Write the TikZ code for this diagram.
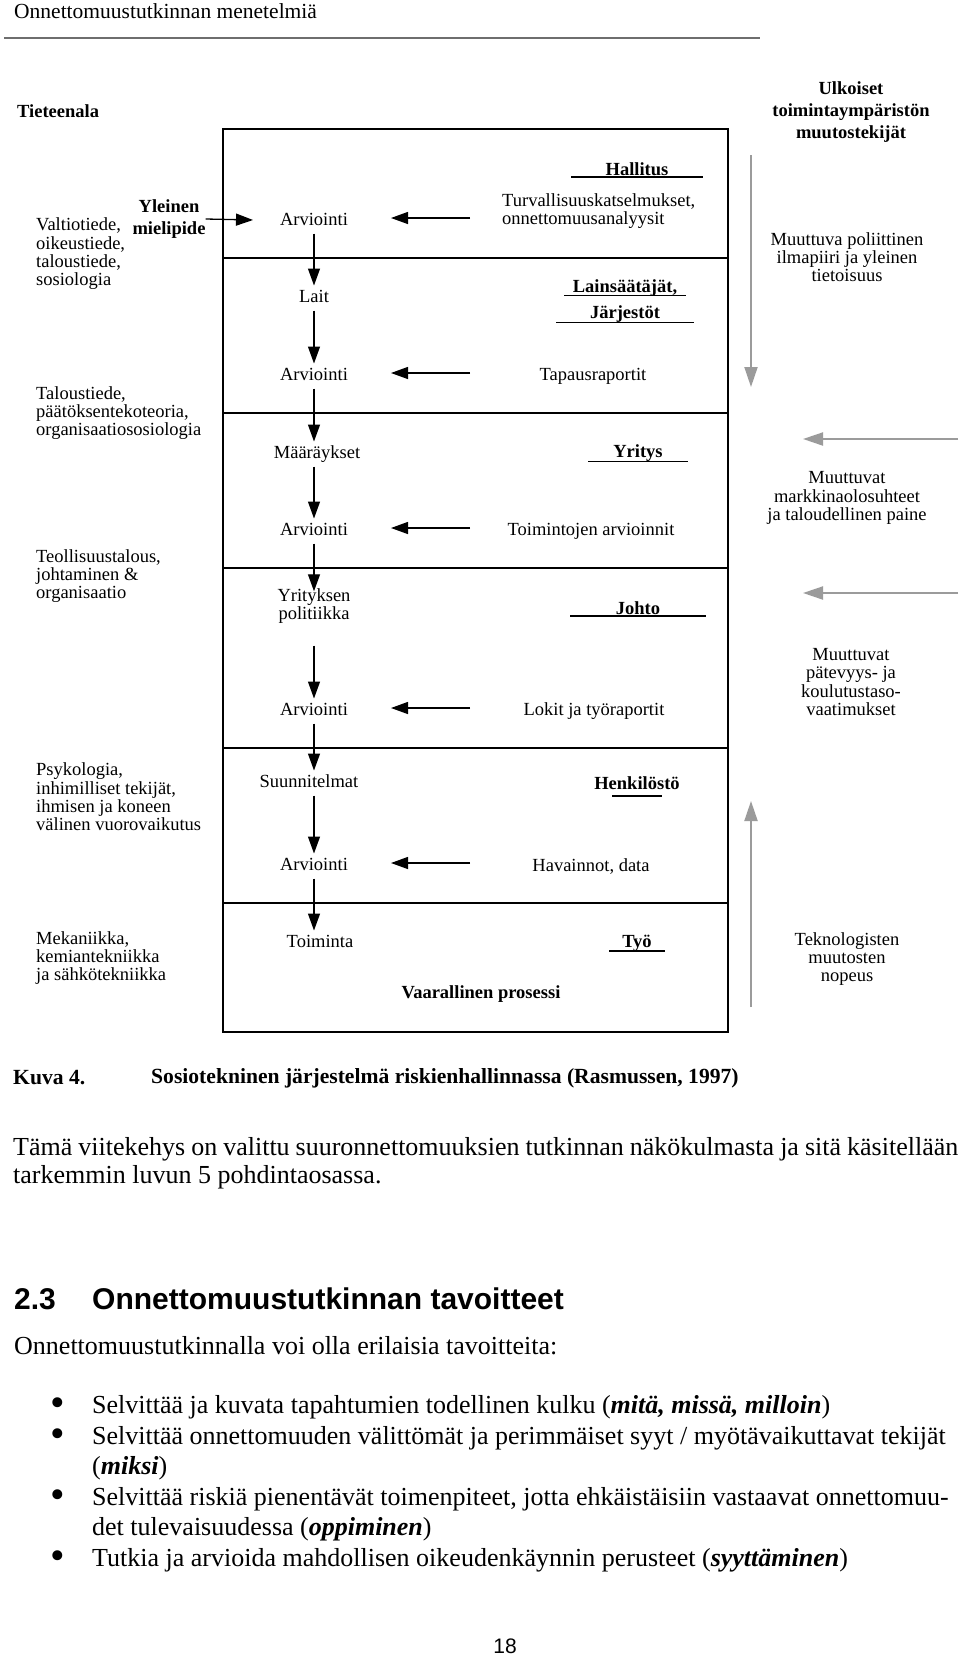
\documentclass[tikz,border=0pt]{standalone}
\usepackage{fontspec}
\setmainfont{Liberation Serif}
\newfontfamily\arialfont{Liberation Sans}
\usetikzlibrary{arrows.meta,calc}
\definecolor{envgray}{RGB}{155,155,155}
\definecolor{rulegray}{RGB}{110,110,110}

\begin{document}
\begin{tikzpicture}[x=1pt, y=-1pt,
    stepnode/.style={font=\dgm, inner sep=0pt, text height=13pt, text depth=4pt, outer sep=4pt},
    srcnode/.style={font=\dgm, inner sep=0pt, align=left},
    scinode/.style={font=\dgm, inner sep=0pt, anchor=west, align=left},
    envnode/.style={font=\dgm, inner sep=0pt, align=center},
    boldnode/.style={font=\dgmb, inner sep=0pt, align=center},
    bodyline/.style={font=\bodyfont, inner sep=0pt, anchor=west},
    blkarrow/.style={line width=1.3pt, -{Triangle[length=17pt,width=12pt]}},
    envarrow/.style={envgray, line width=2pt, -{Triangle[length=20pt,width=13pt]}}]
  \newcommand\dgm{\fontsize{18.5}{18.3}\selectfont}
  \newcommand\dgmb{\fontsize{18.5}{22}\selectfont\bfseries}
  \newcommand\bodyfont{\fontsize{26}{28}\selectfont}
  \newcommand\actor[5]{
    \node[font=\dgmb, inner sep=0pt] (#1) at (#2) {#3};
    \draw[line width=1.8pt] ($(#1.base)+(-#4,#5)$) -- ($(#1.base)+(#4,#5)$);
  }
  \newcommand\feed[1]{
    \draw[blkarrow] ([shift={(156,-3)}]#1.center) -- ([shift={(77,-3)}]#1.center);
  }
  \useasboundingbox (0,0) rectangle (960,1655);

  % page head
  \node[bodyline, font=\fontsize{21.5}{24}\selectfont] (pagehead) at (14,11) {Onnettomuustutkinnan menetelmiä};
  \draw[rulegray, line width=1.2pt] (4,38) -- (760,38);

  % column heads
  \node[boldnode, anchor=west] (tiet) at (17,111) {Tieteenala};
  \node[boldnode] (ulk) at (851,112) {Ulkoiset\\toimintaympäristön\\muutostekijät};

  % the levels
  \draw[line width=2pt] (223,129) rectangle (728,1032);
  \foreach \yy in {258,413,568,748,903}
    \draw[line width=1.3pt] (223,\yy) -- (728,\yy);

  % government
  \actor{hallitus}{637,169}{Hallitus}{66}{2}
  \node[srcnode, anchor=west] (turv) at (502,211) {Turvallisuuskatselmukset,\\onnettomuusanalyysit};
  \node[stepnode] (arv1) at (314,221) {Arviointi};
  \feed{arv1}
  \node[boldnode] (yleinen) at (169,219) {Yleinen\\mielipide};
  \draw[blkarrow] (yleinen.east) -- ([shift={(-61,-1)}]arv1.center);
  \node[scinode] (valt) at (36,254) {Valtiotiede,\\oikeustiede,\\taloustiede,\\sosiologia};
  \node[stepnode] (lait) at (314,298) {Lait};
  \draw[blkarrow] (arv1) -- (lait);
  \actor{lains}{625,288}{Lainsäätäjät,}{61}{3}
  \actor{jarj}{625,314}{Järjestöt}{69}{4}
  \node[envnode] (polit) at (847,257) {Muuttuva poliittinen\\ilmapiiri ja yleinen\\tietoisuus};
  \coordinate (pol1) at (751,155);
  \coordinate (pol2) at (751,387);
  \draw[envarrow] (pol1) -- (pol2);
%
  % regulators
  \node[stepnode] (arv2) at (314,376) {Arviointi};
  \node[srcnode] (tapaus) at (593,376) {Tapausraportit};
  \feed{arv2}
  \draw[blkarrow] (lait) -- (arv2);
  \node[scinode] (talous) at (36,413) {Taloustiede,\\päätöksentekoteoria,\\organisaatiososiologia};
  \node[stepnode] (maar) at (317,454) {Määräykset};
  \draw[blkarrow] (arv2.south) -- (arv2.south |- maar.north);
  \actor{yritys}{638,453}{Yritys}{50}{4}
  \coordinate (mark1) at (958,439);
  \coordinate (mark2) at (803,439);
  \draw[envarrow] (mark1) -- (mark2);
  \node[stepnode] (arv3) at (314,531) {Arviointi};
  \node[srcnode] (toimarv) at (591,531) {Toimintojen arvioinnit};
  \feed{arv3}
  \draw[blkarrow] (arv3.north |- maar.south) -- (arv3.north);
  \node[envnode] (markk) at (847,498) {Muuttuvat\\markkinaolosuhteet\\ja taloudellinen paine};
  \node[scinode] (teoll) at (36,576) {Teollisuustalous,\\johtaminen \&\\organisaatio};
%
  % company
  \node[envnode] (yrpol) at (314,606) {Yrityksen\\politiikka};
  \draw[blkarrow] (arv3.south) -- ([yshift=-3pt]yrpol.north);
  \actor{johto}{638,608}{Johto}{68}{2}
  \coordinate (kil1) at (958,593);
  \coordinate (kil2) at (803,593);
  \draw[envarrow] (kil1) -- (kil2);
  \node[stepnode] (arv4) at (314,711) {Arviointi};
  \node[srcnode] (lokit) at (594,711) {Lokit ja työraportit};
  \feed{arv4}
  \draw[blkarrow] ([yshift=-22pt]yrpol.south) -- (arv4);
  \node[envnode] (patev) at (851,682) {Muuttuvat\\pätevyys- ja\\koulutustaso-\\vaatimukset};
%
  % staff
  \node[stepnode] (suun) at (309,783) {Suunnitelmat};
  \draw[blkarrow] (arv4.south) -- (arv4.south |- suun.north);
  \actor{henk}{637,783}{Henkilöstö}{25}{7}
  \node[scinode] (psyk) at (36,797) {Psykologia,\\inhimilliset tekijät,\\ihmisen ja koneen\\välinen vuorovaikutus};
  \node[stepnode] (arv5) at (314,866) {Arviointi};
  \node[srcnode] (havain) at (591,866) {Havainnot, data};
  \feed{arv5}
  \draw[blkarrow] (arv5.north |- suun.south) -- (arv5.north);
%
  % work
  \node[stepnode] (toim) at (320,943) {Toiminta};
  \draw[blkarrow] (arv5.south) -- (arv5.south |- toim.north);
  \actor{tyo}{637,943}{Työ}{28}{4}
  \node[boldnode] (vaar) at (481,994) {Vaarallinen prosessi};
  \node[scinode] (mek) at (36,958) {Mekaniikka,\\kemiantekniikka\\ja sähkötekniikka};
  \node[envnode] (tekno) at (847,959) {Teknologisten\\muutosten\\nopeus};
  \coordinate (tek1) at (751,1007);
  \coordinate (tek2) at (751,801);
  \draw[envarrow] (tek1) -- (tek2);

  % caption and text
  \node[bodyline, font=\fontsize{21.6}{24}\selectfont\bfseries] (kuva) at (13,1078) {Kuva 4.};
  \node[bodyline, font=\fontsize{21.6}{24}\selectfont\bfseries] (kuvateksti) at (151,1078) {Sosiotekninen järjestelmä riskienhallinnassa (Rasmussen, 1997)};
  \node[bodyline] (para1) at (13,1149) {\makebox[945pt][s]{Tämä viitekehys on valittu suuronnettomuuksien tutkinnan näkökulmasta ja sitä käsitellään}};
  \node[bodyline] (para2) at (13,1177) {tarkemmin luvun 5 pohdintaosassa.};
  \node[bodyline, font=\arialfont\bfseries\fontsize{30}{34}\selectfont] (secnum) at (14,1299) {2.3};
  \node[bodyline, font=\arialfont\bfseries\fontsize{30}{34}\selectfont] (sectitle) at (92,1299) {Onnettomuustutkinnan tavoitteet};
  \node[bodyline] (intro) at (14,1346) {Onnettomuustutkinnalla voi olla erilaisia tavoitteita:};
  \foreach \yy/\nm in {1407/b1,1438/b2,1499/b3,1560/b4}
    \node[inner sep=0pt, font=\bodyfont] (\nm) at (58,\yy) {\scalebox{1.6}{\textbullet}};
  \node[bodyline] (l1) at (92,1407) {Selvittää ja kuvata tapahtumien todellinen kulku (\textbf{\textit{mitä, missä, milloin}})};
  \node[bodyline] (l2) at (92,1438) {Selvittää onnettomuuden välittömät ja perimmäiset syyt / myötävaikuttavat tekijät};
  \node[bodyline] (l3) at (92,1468) {(\textbf{\textit{miksi}})};
  \node[bodyline] (l4) at (92,1499) {Selvittää riskiä pienentävät toimenpiteet, jotta ehkäistäisiin vastaavat onnettomuu-};
  \node[bodyline] (l5) at (92,1529) {det tulevaisuudessa (\textbf{\textit{oppiminen}})};
  \node[bodyline] (l6) at (92,1560) {Tutkia ja arvioida mahdollisen oikeudenkäynnin perusteet (\textbf{\textit{syyttäminen}})};
  \node[font=\arialfont\fontsize{21}{24}\selectfont, inner sep=0pt] (pagenum) at (505,1646) {18};
\end{tikzpicture}
\end{document}
